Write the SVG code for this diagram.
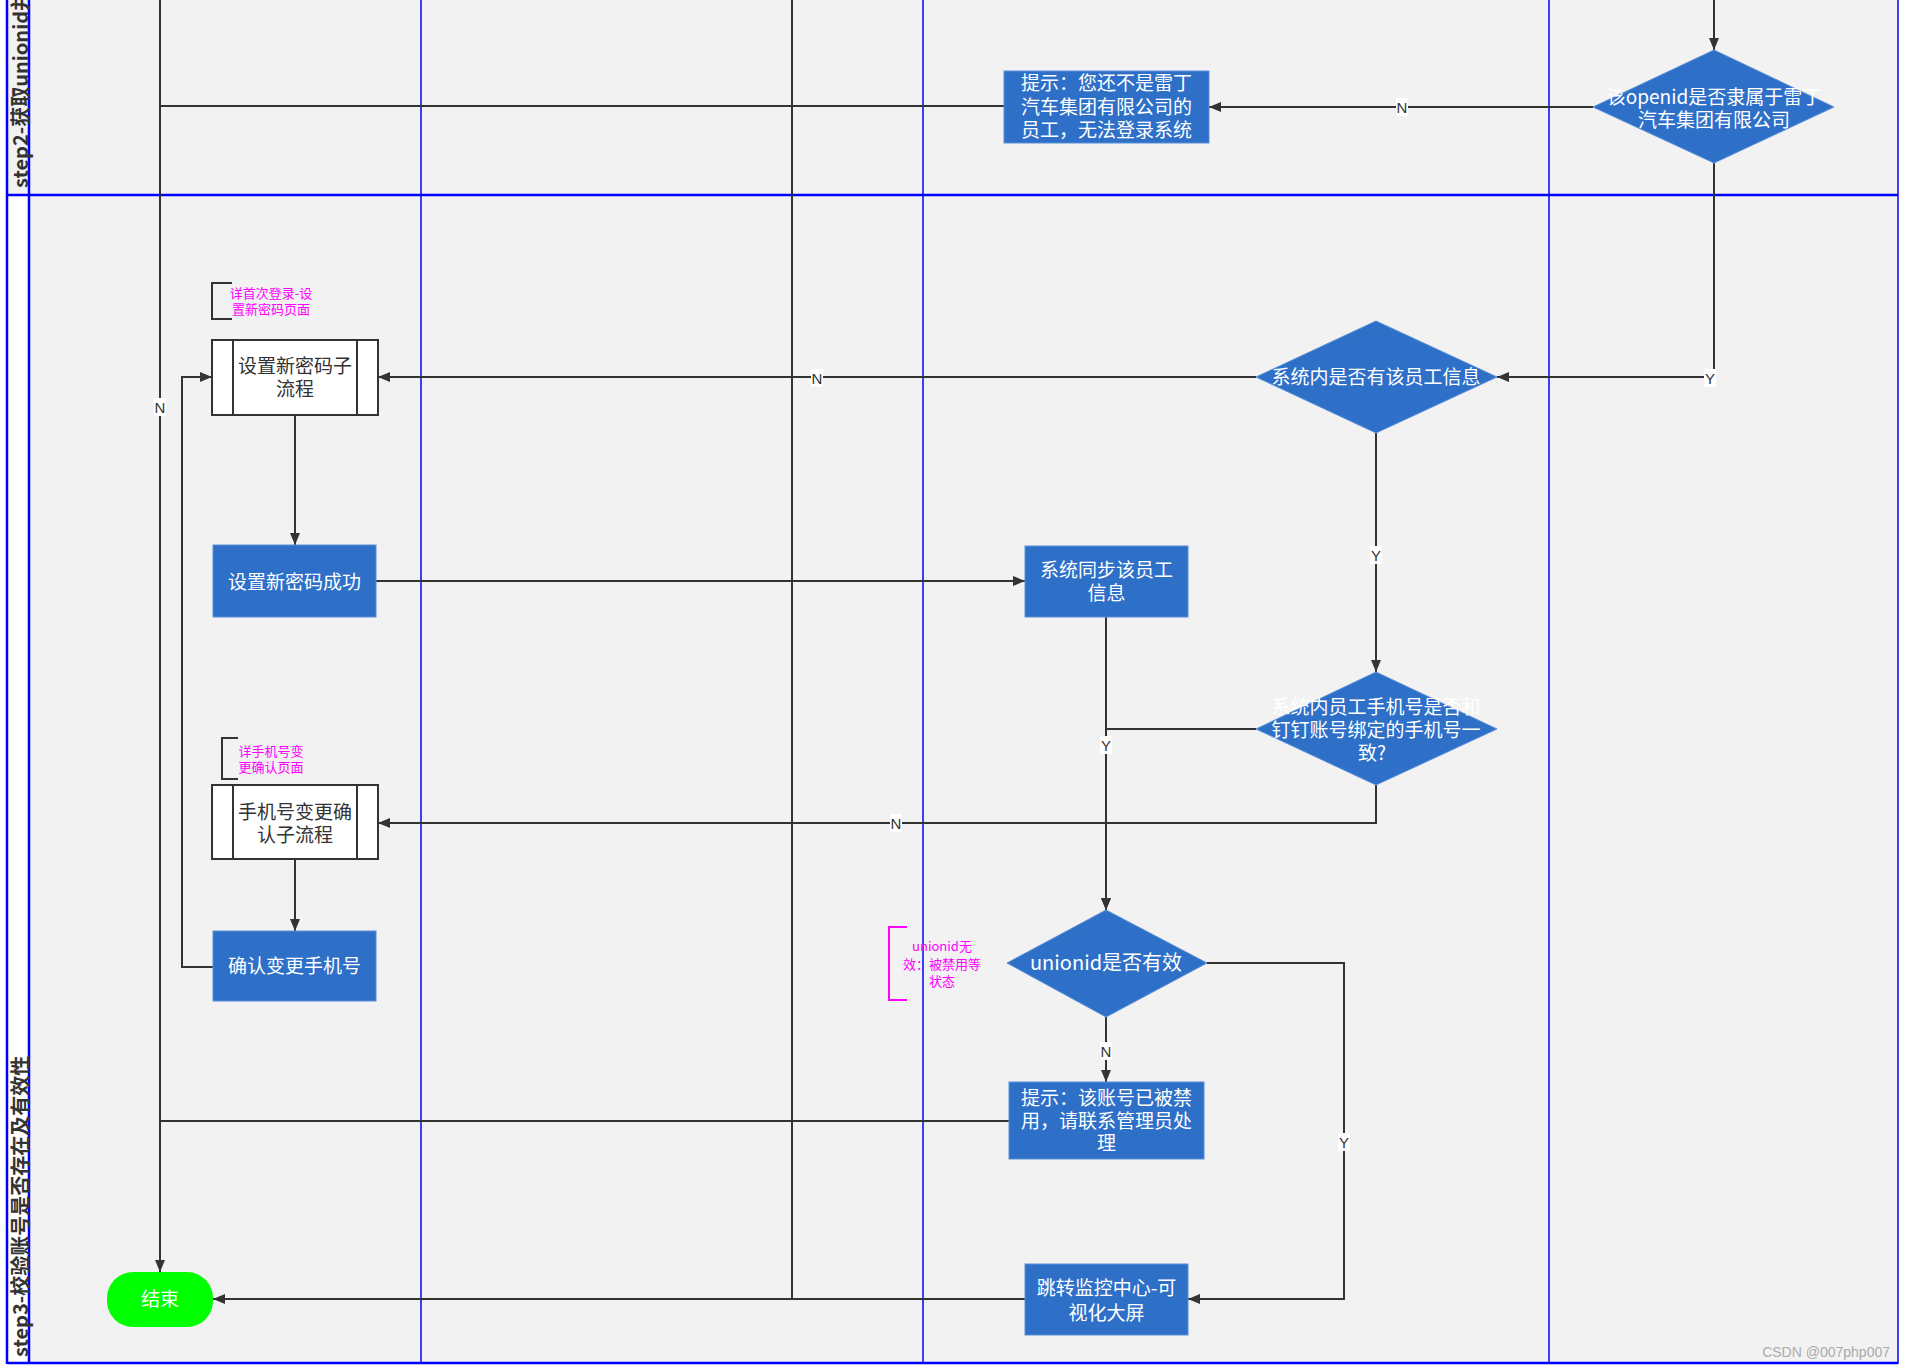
<svg xmlns="http://www.w3.org/2000/svg" width="1906" height="1369" viewBox="0 0 1906 1369">
<defs>
<style>
.t{font-family:"Noto Sans CJK SC","Liberation Sans",sans-serif;font-size:19px;fill:#fff;text-anchor:middle;dominant-baseline:central;transform:translateY(-2px)}
.td{fill:#333}
.note{font-family:"Noto Sans CJK SC","Liberation Sans",sans-serif;font-size:13px;fill:#ff00ff;text-anchor:middle;dominant-baseline:central;transform:translateY(-1px)}
.hdr{font-family:"Noto Sans CJK SC","Liberation Sans",sans-serif;font-size:20px;font-weight:bold;fill:#333;dominant-baseline:central}
.blue{fill:#2e6fc8;stroke:#5b8fd9;stroke-width:1}
.sub{fill:#fff;stroke:#333;stroke-width:2}
.lane{stroke:#0000ff;fill:none}
.c{fill:none;stroke:#333;stroke-width:2}
.ca{fill:none;stroke:#333;stroke-width:2;marker-end:url(#arr)}
.lb rect{fill:#fff}
.lb text{font-family:"Liberation Sans","Noto Sans",sans-serif;font-size:15px;fill:#333;text-anchor:middle;dominant-baseline:central}
</style>
<marker id="arr" markerUnits="userSpaceOnUse" markerWidth="13" markerHeight="10" refX="12" refY="5" orient="auto">
<path d="M0,0 L12,5 L0,10 z" fill="#333"/>
</marker>
</defs>
<rect x="0" y="0" width="1906" height="1369" fill="#ffffff"/>
<g id="lanes">
<rect x="7" y="0" width="1891" height="1363" fill="#f2f2f2"/>
<rect x="7" y="195" width="22" height="1168" fill="#ffffff"/>
<line class="lane" x1="7" y1="0" x2="7" y2="1364" stroke-width="2.5"/>
<line class="lane" x1="29" y1="0" x2="29" y2="1364" stroke-width="2.5"/>
<line class="lane" x1="7" y1="195" x2="1898" y2="195" stroke-width="2.5"/>
<line class="lane" x1="7" y1="1363" x2="1898" y2="1363" stroke-width="2.5"/>
<line class="lane" x1="421" y1="0" x2="421" y2="1363" stroke-width="1.5"/>
<line class="lane" x1="923" y1="0" x2="923" y2="1363" stroke-width="1.5"/>
<line class="lane" x1="1549" y1="0" x2="1549" y2="1363" stroke-width="1.5"/>
<line class="lane" x1="1898" y1="0" x2="1898" y2="1364" stroke-width="1.5"/>
<text class="hdr" transform="translate(19,188) rotate(-90)">step2-获取unionid并</text>
<text class="hdr" transform="translate(19,1357) rotate(-90)">step3-校验账号是否存在及有效性</text>
</g>
<g id="connectors">
<path class="ca" d="M1714,0 V50"/>
<path class="ca" d="M1593,107 H1209"/>
<path class="c" d="M1004,106 H160"/>
<path class="ca" d="M160,0 V1272"/>
<path class="c" d="M792,0 V1298"/>
<path class="ca" d="M1714,163 V377 H1497"/>
<path class="ca" d="M1256,377 H378"/>
<path class="ca" d="M295,415 V545"/>
<path class="ca" d="M376,581 H1025"/>
<path class="ca" d="M1376,433 V672"/>
<path class="ca" d="M1106,617 V910"/>
<path class="ca" d="M1256,729 H1106 V910"/>
<path class="ca" d="M1376,785 V823 H378"/>
<path class="ca" d="M295,859 V931"/>
<path class="ca" d="M213,967 H182 V377 H212"/>
<path class="ca" d="M1106,1017 V1082"/>
<path class="c" d="M1009,1121 H160"/>
<path class="ca" d="M1207,963 H1344 V1299 H1188"/>
<path class="ca" d="M1025,1299 H213"/>
<g class="lb"><rect x="1396" y="98" width="12" height="18"/><text x="1402" y="107">N</text></g>
<g class="lb"><rect x="154" y="398" width="12" height="18"/><text x="160" y="407">N</text></g>
<g class="lb"><rect x="1704" y="369" width="12" height="18"/><text x="1710" y="378">Y</text></g>
<g class="lb"><rect x="811" y="369" width="12" height="18"/><text x="817" y="378">N</text></g>
<g class="lb"><rect x="1370" y="546" width="12" height="18"/><text x="1376" y="555">Y</text></g>
<g class="lb"><rect x="1100" y="736" width="12" height="18"/><text x="1106" y="745">Y</text></g>
<g class="lb"><rect x="890" y="814" width="12" height="18"/><text x="896" y="823">N</text></g>
<g class="lb"><rect x="1100" y="1042" width="12" height="18"/><text x="1106" y="1051">N</text></g>
<g class="lb"><rect x="1338" y="1133" width="12" height="18"/><text x="1344" y="1142">Y</text></g>
</g>
<g id="d1">
<polygon class="blue" points="1714,50 1834,107 1714,163 1593,107"/>
<text class="t" x="1714" y="97">该openid是否隶属于雷丁</text>
<text class="t" x="1714" y="120">汽车集团有限公司</text>
</g>
<g id="tip1">
<rect class="blue" x="1004" y="71" width="205" height="72"/>
<text class="t" x="1106.5" y="83">提示：您还不是雷丁</text>
<text class="t" x="1106.5" y="107">汽车集团有限公司的</text>
<text class="t" x="1106.5" y="130">员工，无法登录系统</text>
</g>
<g id="d2">
<polygon class="blue" points="1376,321 1497,377 1376,433 1256,377"/>
<text class="t" x="1376" y="377">系统内是否有该员工信息</text>
</g>
<g id="note1">
<path d="M232,283 H212 V319 H232" fill="none" stroke="#333" stroke-width="2"/>
<text class="note" x="271" y="293">详首次登录-设</text>
<text class="note" x="271" y="309">置新密码页面</text>
</g>
<g id="sub1">
<rect class="sub" x="212" y="340" width="166" height="75"/>
<line x1="233" y1="340" x2="233" y2="415" stroke="#333" stroke-width="2"/>
<line x1="357" y1="340" x2="357" y2="415" stroke="#333" stroke-width="2"/>
<text class="t td" x="295" y="366">设置新密码子</text>
<text class="t td" x="295" y="389">流程</text>
</g>
<g id="pwdok">
<rect class="blue" x="213" y="545" width="163" height="72"/>
<text class="t" x="294.5" y="582">设置新密码成功</text>
</g>
<g id="sync">
<rect class="blue" x="1025" y="546" width="163" height="71"/>
<text class="t" x="1106.5" y="570">系统同步该员工</text>
<text class="t" x="1106.5" y="593">信息</text>
</g>
<g id="d3">
<polygon class="blue" points="1376,672 1497,729 1376,785 1256,729"/>
<text class="t" x="1376" y="707">系统内员工手机号是否和</text>
<text class="t" x="1376" y="730">钉钉账号绑定的手机号一</text>
<text class="t" x="1372" y="753">致?</text>
</g>
<g id="note2">
<path d="M238,738 H222 V779 H238" fill="none" stroke="#333" stroke-width="2"/>
<text class="note" x="271" y="751">详手机号变</text>
<text class="note" x="271" y="767">更确认页面</text>
</g>
<g id="sub2">
<rect class="sub" x="212" y="785" width="166" height="74"/>
<line x1="233" y1="785" x2="233" y2="859" stroke="#333" stroke-width="2"/>
<line x1="357" y1="785" x2="357" y2="859" stroke="#333" stroke-width="2"/>
<text class="t td" x="295" y="812">手机号变更确</text>
<text class="t td" x="295" y="835">认子流程</text>
</g>
<g id="confirm">
<rect class="blue" x="213" y="931" width="163" height="70"/>
<text class="t" x="294.5" y="966">确认变更手机号</text>
</g>
<g id="note3">
<path d="M907,927 H889 V1000 H907" fill="none" stroke="#ff00ff" stroke-width="2"/>
<text class="note" x="942" y="946">unionid无</text>
<text class="note" x="942" y="964">效：被禁用等</text>
<text class="note" x="942" y="981">状态</text>
</g>
<g id="d4">
<polygon class="blue" points="1106,910 1207,963 1106,1017 1007,963"/>
<text class="t" x="1106" y="963" style="font-size:20px">unionid是否有效</text>
</g>
<g id="tip2">
<rect class="blue" x="1009" y="1082" width="195" height="77"/>
<text class="t" x="1106.5" y="1098">提示：该账号已被禁</text>
<text class="t" x="1106.5" y="1121">用，请联系管理员处</text>
<text class="t" x="1106.5" y="1143">理</text>
</g>
<g id="jump">
<rect class="blue" x="1025" y="1264" width="163" height="71"/>
<text class="t" x="1106.5" y="1288">跳转监控中心-可</text>
<text class="t" x="1106.5" y="1313">视化大屏</text>
</g>
<g id="end">
<rect x="107" y="1272" width="106" height="55" rx="26" ry="26" fill="#00ff00"/>
<text class="t" x="160" y="1299">结束</text>
</g>
<text x="1890" y="1352" font-family="Liberation Sans Narrow,Liberation Sans,sans-serif" font-size="14" fill="#aaaaaa" text-anchor="end" dominant-baseline="central">CSDN @007php007</text>
</svg>
